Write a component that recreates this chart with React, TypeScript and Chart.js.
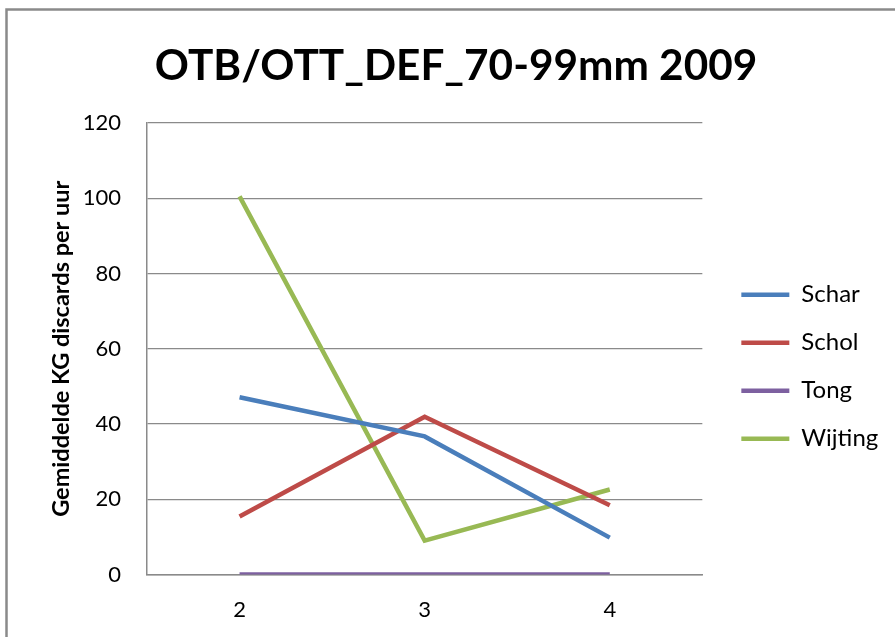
import React, { useEffect, useRef } from "react";
import { Chart, registerables } from "chart.js";

Chart.register(...registerables);

const titleText = "OTB/OTT_DEF_70-99mm 2009";
const yAxisTitle = "Gemiddelde KG discards per uur";
const categories = ["2", "3", "4"];
const schar = [47.1, 36.7, 9.8];
const schol = [15.4, 41.9, 18.4];
const tong = [0, 0, 0];
const wijting = [100.5, 9.0, 22.6];
const seriesNames = ["Schar", "Schol", "Tong", "Wijting"];
const seriesValues = [schar, schol, tong, wijting];
const seriesColors = ["#4A7EBB", "#BE4B48", "#7D60A0", "#98B954"];
const yMin = 0;
const yMax = 120;
const yStep = 20;

const FONT = "Lato, 'Open Sans', sans-serif";
const LEGEND_GAP = 15;

const framePlugin = {
  id: "frame",
  beforeDraw(chart: any) {
    const ctx = chart.ctx;
    ctx.save();
    ctx.fillStyle = "#ffffff";
    ctx.fillRect(0, 0, chart.width, chart.height);
    ctx.strokeStyle = "#8a8a8a";
    ctx.lineWidth = 2.5;
    ctx.strokeRect(6.5, 9.5, chart.width + 40, chart.height + 40);
    ctx.restore();
  },
};

// widen the legend box so its labels are not clipped, and place it next to the plot
const legendBoxPlugin = {
  id: "legendBox",
  afterLayout(chart: any) {
    const l = chart.legend;
    if (!l) return;
    l.left = chart.chartArea.right + LEGEND_GAP;
    l.right = chart.width;
    l.width = l.right - l.left;
  },
};

export default function App() {
  const ref = useRef<HTMLCanvasElement | null>(null);

  useEffect(() => {
    document.body.style.margin = "0";
    const canvas = ref.current;
    if (!canvas) return;
    const chart = new Chart(canvas, {
      type: "line",
      data: {
        labels: categories,
        datasets: seriesNames.map((name, i) => ({
          label: name,
          data: seriesValues[i],
          borderColor: seriesColors[i],
          backgroundColor: seriesColors[i],
          borderWidth: 4.5,
          pointRadius: 0,
          pointHoverRadius: 0,
          tension: 0,
          fill: false,
          pointStyle: "line",
        })),
      },
      options: {
        responsive: false,
        animation: false,
        maintainAspectRatio: false,
        layout: { padding: { left: 37, right: 20, top: 0, bottom: 0 } },
        plugins: {
          tooltip: { enabled: false },
          title: {
            display: true,
            text: titleText,
            color: "#000000",
            font: { family: FONT, size: 42.3, weight: "bold" },
            padding: { top: 40.5, bottom: 31.7 },
          },
          legend: {
            display: true,
            position: "right",
            align: "center",
            fullSize: false,
            title: {
              display: true,
              text: " ",
              font: { family: FONT, size: 10 },
              padding: { top: 12, bottom: 12 },
            },
            labels: {
              color: "#000000",
              font: { family: FONT, size: 24 },
              usePointStyle: true,
              pointStyle: "line",
              pointStyleWidth: 48,
              padding: 24,
            },
          },
        },
        scales: {
          x: {
            type: "category",
            offset: true,
            grid: { display: false, drawTicks: false },
            border: { display: true, color: "#8a8a8a", width: 1.5 },
            ticks: {
              color: "#000000",
              font: { family: FONT, size: 22 },
              padding: 22,
              maxRotation: 0,
            },
            afterFit(scale: any) {
              scale.height = 62.5;
            },
          },
          y: {
            min: yMin,
            max: yMax,
            ticks: {
              stepSize: yStep,
              color: "#000000",
              font: { family: FONT, size: 22 },
              padding: 26,
            },
            grid: { color: "#8a8a8a", lineWidth: 1.2, drawTicks: false },
            border: { display: true, color: "#8a8a8a", width: 1.5 },
            title: {
              display: true,
              text: yAxisTitle,
              color: "#000000",
              font: { family: FONT, size: 23.5, weight: "bold" },
              padding: { top: 10, bottom: 0 },
            },
            afterFit(scale: any) {
              scale.width = 110;
            },
          },
          yR: {
            position: "right",
            display: true,
            grid: { display: false, drawTicks: false },
            border: { display: false },
            ticks: { display: false },
            afterFit(scale: any) {
              scale.width = 33;
            },
          },
        },
      },
      plugins: [framePlugin, legendBoxPlugin],
    } as any);
    return () => chart.destroy();
  }, []);

  return (
    <div style={{ position: "fixed", left: 0, top: 0, width: 895, height: 637 }}>
      <canvas ref={ref} width={895} height={637} style={{ width: 895, height: 637, display: "block" }} />
    </div>
  );
}
